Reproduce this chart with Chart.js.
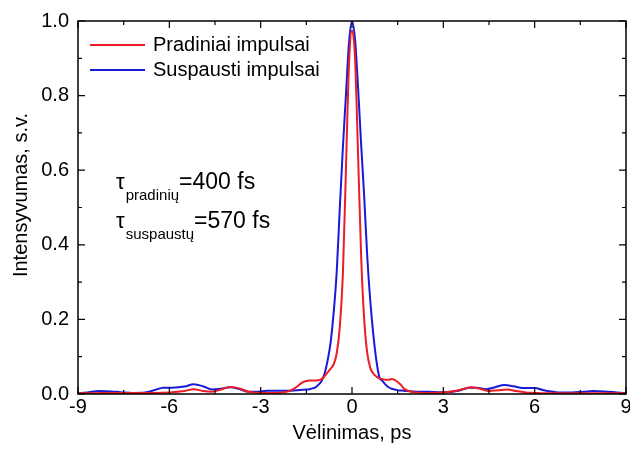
<!DOCTYPE html>
<html lang="lt">
<head>
<meta charset="UTF-8">
<title>Intensyvumas</title>
<script src="https://cdn.jsdelivr.net/npm/chart.js"></script>
<style>
  html, body { margin: 0; padding: 0; background: #fff; }
  #wrap { width: 630px; height: 450px; }
</style>
</head>
<body>
<div id="wrap"><canvas id="pulseChart"></canvas></div>
<script>
// data
const delayRed = [-9, -8.5, -8, -7.5, -7, -6.5, -6, -5.5, -5.2, -4.9, -4.6, -4.3, -4.0, -3.7, -3.4, -3.0, -2.5, -2.2, -2.0, -1.8, -1.65,
  -1.5, -1.4, -1.3, -1.2, -1.1, -1.0, -0.9, -0.8, -0.7, -0.6, -0.5, -0.4, -0.3, -0.2, -0.1, 0,
  0.1, 0.2, 0.3, 0.4, 0.5, 0.6, 0.7, 0.8, 0.9, 1.0, 1.1, 1.2, 1.3, 1.4, 1.5,
  1.6, 1.7, 1.8, 2.0, 2.5, 3.0, 3.5, 3.9, 4.2, 4.5, 4.8, 5.1, 5.4, 5.7, 6, 6.5, 7, 7.5, 8, 8.5, 9];
const pradiniai = [0.002, 0.002, 0.003, 0.003, 0.003, 0.003, 0.004, 0.008, 0.013, 0.008, 0.006, 0.012, 0.019, 0.015, 0.006, 0.003, 0.003, 0.005, 0.010, 0.020, 0.030,
  0.035, 0.036, 0.036, 0.036, 0.037, 0.040, 0.048, 0.058, 0.068, 0.080, 0.110, 0.180, 0.320, 0.600, 0.880, 0.975,
  0.900, 0.640, 0.370, 0.200, 0.110, 0.070, 0.055, 0.047, 0.042, 0.040, 0.038, 0.038, 0.040, 0.038, 0.032,
  0.025, 0.015, 0.010, 0.005, 0.003, 0.004, 0.010, 0.018, 0.014, 0.008, 0.010, 0.012, 0.008, 0.004, 0.003, 0.002, 0.002, 0.002, 0.002, 0.002, 0.002];

const delayBlue = [-9, -8.7, -8.3, -7.9, -7.6, -7.2, -6.8, -6.5, -6.2, -5.9, -5.5, -5.2, -4.9, -4.6, -4.3, -4.0, -3.7, -3.4, -3.1, -2.8, -2.4, -2.0, -1.7,
  -1.5, -1.4, -1.3, -1.2, -1.1, -1.0, -0.9, -0.8, -0.7, -0.6, -0.5, -0.4, -0.3, -0.2, -0.1, 0,
  0.1, 0.2, 0.3, 0.4, 0.5, 0.6, 0.7, 0.8, 0.9, 1.0, 1.1, 1.2, 1.3, 1.4, 1.5,
  1.7, 2.0, 2.5, 3.0, 3.5, 3.85, 4.1, 4.4, 4.7, 5.0, 5.3, 5.6, 6.0, 6.3, 6.7, 7.2, 7.6, 7.9, 8.3, 8.7, 9];
const suspausti = [0.002, 0.004, 0.008, 0.007, 0.005, 0.003, 0.004, 0.010, 0.017, 0.017, 0.020, 0.026, 0.021, 0.012, 0.014, 0.018, 0.013, 0.006, 0.006, 0.009, 0.009, 0.009, 0.011,
  0.012, 0.013, 0.015, 0.018, 0.025, 0.035, 0.055, 0.090, 0.140, 0.220, 0.330, 0.500, 0.660, 0.800, 0.940, 1.000,
  0.950, 0.820, 0.670, 0.530, 0.370, 0.250, 0.160, 0.090, 0.045, 0.035, 0.025, 0.018, 0.014, 0.012, 0.010,
  0.009, 0.007, 0.006, 0.005, 0.009, 0.017, 0.017, 0.013, 0.018, 0.024, 0.021, 0.016, 0.016, 0.010, 0.005, 0.004, 0.006, 0.008, 0.007, 0.004, 0.002];

const seriesNames = ['Pradiniai impulsai', 'Suspausti impulsai'];
const seriesColors = ['#ee1c24', '#1a1ad6'];
const xTickValues = [-9, -6, -3, 0, 3, 6, 9];
const yTitle = 'Intensyvumas, s.v.';

const FONT = 'Liberation Sans, Arial, sans-serif';

function toPoints(xs, ys) {
    return xs.map((x, i) => ({ x: x, y: ys[i] }));
}

// frame, inward ticks, legend, y title and tau labels
const decorPlugin = {
    id: 'decor',
    afterDraw(chart) {
        const ctx = chart.ctx;
        const a = chart.chartArea;
        const xs = chart.scales.x, ys = chart.scales.y;
        ctx.save();
        ctx.strokeStyle = '#000';
        ctx.lineWidth = 1.5;
        ctx.strokeRect(a.left, a.top, a.right - a.left, a.bottom - a.top);
        ctx.lineWidth = 1.2;
        ctx.beginPath();
        for (let v = -9; v <= 9.001; v += 1.5) {
            const px = xs.getPixelForValue(v);
            const len = Math.abs(v % 3) < 0.01 ? 7 : 4;
            ctx.moveTo(px, a.bottom); ctx.lineTo(px, a.bottom - len);
            ctx.moveTo(px, a.top); ctx.lineTo(px, a.top + len);
        }
        for (let i = 0; i <= 10; i++) {
            const py = ys.getPixelForValue(i / 10);
            const len = i % 2 === 0 ? 7 : 4;
            ctx.moveTo(a.left, py); ctx.lineTo(a.left + len, py);
            ctx.moveTo(a.right, py); ctx.lineTo(a.right - len, py);
        }
        ctx.stroke();

        // legend
        ctx.font = '20px ' + FONT;
        ctx.textBaseline = 'middle';
        ctx.lineWidth = 2;
        seriesNames.forEach((name, i) => {
            const y = 45 + i * 25;
            ctx.strokeStyle = seriesColors[i];
            ctx.beginPath();
            ctx.moveTo(90, y); ctx.lineTo(145, y);
            ctx.stroke();
            ctx.fillStyle = '#000';
            ctx.fillText(name, 153, y);
        });

        // y title
        ctx.save();
        ctx.translate(21, 195);
        ctx.rotate(-Math.PI / 2);
        ctx.textAlign = 'center';
        ctx.fillText(yTitle, 0, 0);
        ctx.restore();

        // tau annotations
        const tau = [['pradinių', '=400 fs', 183], ['suspaustų', '=570 fs', 222]];
        tau.forEach(([sub, main, y]) => {
            let x = 116;
            ctx.font = '22px ' + FONT;
            ctx.fillText('τ', x, y);
            x += ctx.measureText('τ').width + 1;
            ctx.font = '15px ' + FONT;
            ctx.fillText(sub, x, y + 13);
            x += ctx.measureText(sub).width;
            ctx.font = '23px ' + FONT;
            ctx.fillText(main, x, y);
        });
        ctx.restore();
    }
};

new Chart(document.getElementById('pulseChart'), {
    type: 'scatter',
    data: {
        datasets: [{
            label: seriesNames[0],
            data: toPoints(delayRed, pradiniai),
            borderColor: seriesColors[0],
            borderWidth: 2,
            showLine: true,
            pointRadius: 0,
            cubicInterpolationMode: 'monotone'
        }, {
            label: seriesNames[1],
            data: toPoints(delayBlue, suspausti),
            borderColor: seriesColors[1],
            borderWidth: 2,
            showLine: true,
            pointRadius: 0,
            cubicInterpolationMode: 'monotone'
        }]
    },
    options: {
        responsive: true,
        maintainAspectRatio: false,
        animation: false,
        layout: { padding: { top: 19, right: 4, left: 0, bottom: 0 } },
        plugins: {
            legend: { display: false },
            tooltip: { enabled: false }
        },
        scales: {
            x: {
                type: 'linear',
                min: -9,
                max: 9,
                afterBuildTicks: scale => { scale.ticks = xTickValues.map(v => ({ value: v })); },
                afterFit: scale => {
                    scale.height = 56;
                    scale.paddingRight = 0;
                    scale.paddingLeft = 0;
                },
                grid: { display: false, drawTicks: false },
                border: { display: false },
                ticks: {
                    padding: 1,
                    color: '#000',
                    font: { family: FONT, size: 20 },
                    maxRotation: 0,
                    callback: v => String(v)
                },
                title: {
                    display: true,
                    text: 'Vėlinimas, ps',
                    color: '#000',
                    font: { family: FONT, size: 20 },
                    padding: { top: 0, bottom: 5 }
                }
            },
            y: {
                min: 0,
                max: 1,
                afterFit: scale => { scale.width = 78; },
                grid: { display: false, drawTicks: false },
                border: { display: false },
                ticks: {
                    stepSize: 0.2,
                    padding: 9,
                    color: '#000',
                    font: { family: FONT, size: 20 },
                    callback: v => v.toFixed(1)
                }
            }
        }
    },
    plugins: [decorPlugin]
});
</script>
</body>
</html>
